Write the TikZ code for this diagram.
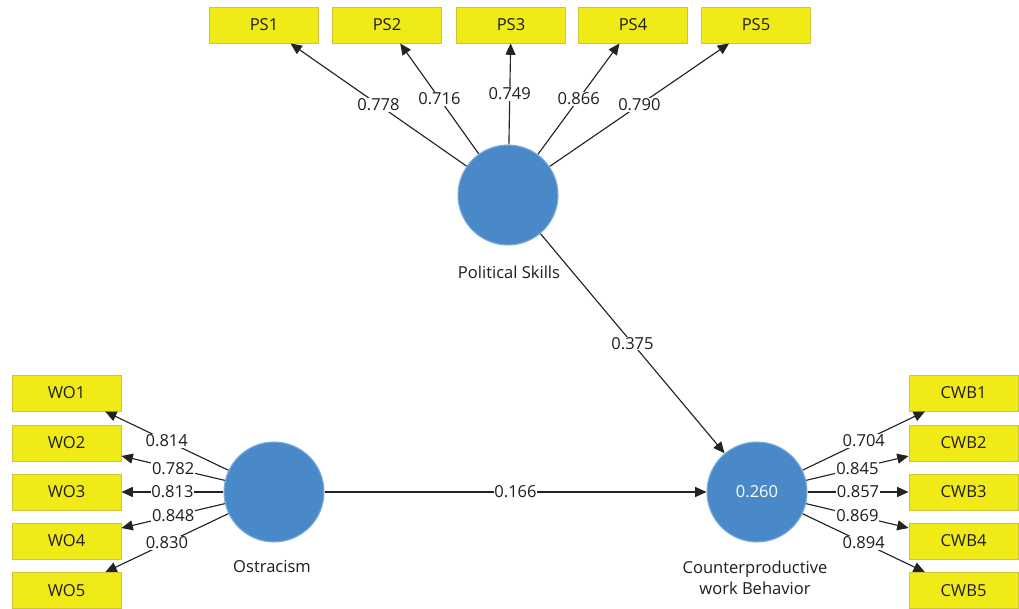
\documentclass[tikz,border=0pt]{standalone}
\usepackage{fontspec}
\setmainfont{Open Sans}
\usetikzlibrary{arrows.meta}
\definecolor{boxfill}{RGB}{240,234,22}
\definecolor{boxline}{RGB}{205,198,60}
\definecolor{circfill}{RGB}{74,137,199}
\definecolor{circline}{RGB}{125,175,222}
\definecolor{edgecol}{RGB}{35,35,35}
\definecolor{txt}{RGB}{30,30,30}
\begin{document}
\begin{tikzpicture}[x=0.75pt,y=-0.75pt,
  ind/.style={draw=boxline,line width=0.7pt,fill=boxfill,minimum width=81.75pt,minimum height=27pt,inner sep=0pt,text=txt,font=\fontsize{12.4}{14}\selectfont},
  lat/.style={circle,draw=circline,line width=0.8pt,fill=circfill,minimum size=75pt,inner sep=0pt,text=white,font=\fontsize{12.4}{14}\selectfont},
  latname/.style={align=center,text=txt,font=\fontsize{12.4}{15.5}\selectfont},
  conn/.style={draw=edgecol,line width=0.85pt,-{Triangle[length=8.5pt,width=7.5pt]}},
  wt/.style={fill=white,inner sep=0.6pt,text=txt,font=\fontsize{12.4}{14}\selectfont}
]
\useasboundingbox[fill=white] (0,0) rectangle (1019,609);

% latent variables
\node[lat] (ps) at (508,195) {};
\node[lat] (os) at (274,492) {};
\node[lat] (cwb) at (757,492) {0.260};
\node[latname] (pslab) at (509,272) {Political Skills};
\node[latname] (oslab) at (272,567) {Ostracism};
\node[latname] (cwblab) at (755,578) {Counterproductive\\work Behavior};

% indicators
\node[ind] (ps1) at (264,25) {PS1};
\node[ind] (ps2) at (387,25) {PS2};
\node[ind] (ps3) at (511,25) {PS3};
\node[ind] (ps4) at (633,25) {PS4};
\node[ind] (ps5) at (756,25) {PS5};

\node[ind] (wo1) at (66.5,393) {WO1};
\node[ind] (wo2) at (66.5,443) {WO2};
\node[ind] (wo3) at (66.5,492) {WO3};
\node[ind] (wo4) at (66.5,541) {WO4};
\node[ind] (wo5) at (66.5,590.5) {WO5};

\node[ind] (cwb1) at (963.5,393) {CWB1};
\node[ind] (cwb2) at (963.5,443) {CWB2};
\node[ind] (cwb3) at (963.5,492) {CWB3};
\node[ind] (cwb4) at (963.5,541) {CWB4};
\node[ind] (cwb5) at (963.5,590.5) {CWB5};

% loadings
\draw[conn] (ps) -- node[wt]{0.778} (ps1);
\draw[conn] (ps) -- node[wt]{0.716} (ps2);
\draw[conn] (ps) -- node[wt]{0.749} (ps3);
\draw[conn] (ps) -- node[wt]{0.866} (ps4);
\draw[conn] (ps) -- node[wt]{0.790} (ps5);

\draw[conn] (os) -- node[wt]{0.814} (wo1);
\draw[conn] (os) -- node[wt]{0.782} (wo2);
\draw[conn] (os) -- node[wt]{0.813} (wo3);
\draw[conn] (os) -- node[wt]{0.848} (wo4);
\draw[conn] (os) -- node[wt]{0.830} (wo5);

\draw[conn] (cwb) -- node[wt]{0.704} (cwb1);
\draw[conn] (cwb) -- node[wt]{0.845} (cwb2);
\draw[conn] (cwb) -- node[wt]{0.857} (cwb3);
\draw[conn] (cwb) -- node[wt]{0.869} (cwb4);
\draw[conn] (cwb) -- node[wt]{0.894} (cwb5);

% structural paths
\draw[conn] (ps) -- node[wt]{0.375} (cwb);
\draw[conn] (os) -- node[wt]{0.166} (cwb);
\end{tikzpicture}
\end{document}
